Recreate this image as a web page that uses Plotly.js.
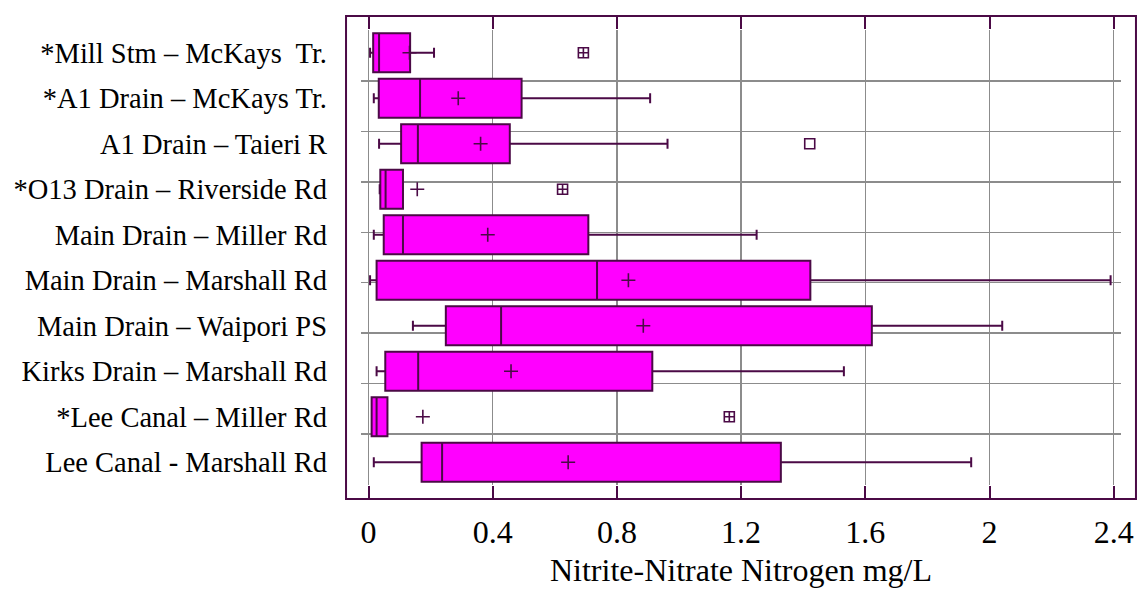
<!DOCTYPE html>
<html>
<head>
<meta charset="utf-8">
<script src="https://cdn.plot.ly/plotly-3.0.1.min.js"></script>
<style>html,body{margin:0;padding:0;background:#fff;}#chart{width:1138px;height:605px;}</style>
</head>
<body>
<div id="chart"></div>
<script>
// ---- data ----
var sites = [
  '*Mill Stm – McKays\u00a0 Tr.',
  '*A1 Drain – McKays Tr.',
  'A1 Drain – Taieri R',
  '*O13 Drain – Riverside Rd',
  'Main Drain – Miller Rd',
  'Main Drain – Marshall Rd',
  'Main Drain – Waipori PS',
  'Kirks Drain – Marshall Rd',
  '*Lee Canal – Miller Rd',
  'Lee Canal - Marshall Rd'
];
var lowerWhisker = [0.005, 0.017, 0.034, 0.036, 0.017, 0.005, 0.143, 0.026, 0.010, 0.017];
var q1Values     = [0.015, 0.033, 0.105, 0.038, 0.049, 0.026, 0.249, 0.054, 0.010, 0.171];
var medianValues = [0.034, 0.166, 0.159, 0.055, 0.111, 0.736, 0.427, 0.160, 0.026, 0.237];
var q3Values     = [0.134, 0.493, 0.455, 0.111, 0.708, 1.423, 1.621, 0.914, 0.061, 1.328];
var upperWhisker = [0.211, 0.907, 0.963, 0.111, 1.250, 2.390, 2.041, 1.531, 0.061, 1.941];
var meanValues   = [0.132, 0.289, 0.361, 0.157, 0.384, 0.837, 0.885, 0.459, 0.175, 0.643];

var farOutlierSites  = ['*Mill Stm – McKays\u00a0 Tr.', '*O13 Drain – Riverside Rd', '*Lee Canal – Miller Rd'];
var farOutlierValues = [0.692, 0.625, 1.162];
var outlierSites  = ['A1 Drain – Taieri R'];
var outlierValues = [1.421];

var xTickValues = [0, 0.4, 0.8, 1.2, 1.6, 2, 2.4];
var xTickLabels = ['0', '0.4', '0.8', '1.2', '1.6', '2', '2.4'];
var gridRows = [0, 1, 2, 3, 4, 5, 6, 7, 8, 9];
var xTitle = 'Nitrite-Nitrate Nitrogen mg/L';

// ---- styling ----
var DARK = '#4b0a46';
var FONT = 'Liberation Serif';

var traces = [
  {
    type: 'box', orientation: 'h', name: 'box',
    y: sites,
    lowerfence: lowerWhisker, q1: q1Values, median: medianValues,
    q3: q3Values, upperfence: upperWhisker,
    boxpoints: false,
    width: 0.86,
    whiskerwidth: 0.26,
    fillcolor: '#ff00ff',
    line: {color: DARK, width: 2},
    hoverinfo: 'skip', showlegend: false
  },
  {
    type: 'scatter', mode: 'markers', name: 'mean',
    x: meanValues, y: sites,
    marker: {symbol: 'cross-thin-open', size: 10, color: DARK, line: {color: DARK, width: 1.6}},
    hoverinfo: 'skip', showlegend: false, cliponaxis: false
  },
  {
    type: 'scatter', mode: 'markers', name: 'far outliers',
    x: farOutlierValues, y: farOutlierSites,
    marker: {symbol: 'square-cross-open', size: 10, color: DARK, line: {color: DARK, width: 1.6}},
    hoverinfo: 'skip', showlegend: false, cliponaxis: false
  },
  {
    type: 'scatter', mode: 'markers', name: 'outliers',
    x: outlierValues, y: outlierSites,
    marker: {symbol: 'square-open', size: 10, color: DARK, line: {color: DARK, width: 1.6}},
    hoverinfo: 'skip', showlegend: false, cliponaxis: false
  },
  {
    type: 'scatter', mode: 'markers', x: [null], y: [null], yaxis: 'y2',
    hoverinfo: 'skip', showlegend: false
  }
];

var layout = {
  width: 1138, height: 605,
  margin: {l: 361, r: 17, t: 30, b: 120},
  paper_bgcolor: '#ffffff', plot_bgcolor: '#ffffff',
  font: {family: FONT, color: '#000000'},
  showlegend: false,
  xaxis: {
    range: [-0.0242, 2.4235],
    tickvals: xTickValues, ticktext: xTickLabels,
    tickfont: {family: FONT, size: 32, color: '#000'},
    ticks: 'outside', ticklen: 14, tickwidth: 2, tickcolor: DARK,
    mirror: 'ticks', showline: false,
    showgrid: true, gridcolor: '#8c8c8c', gridwidth: 1.5,
    zeroline: false,
    ticklabelstandoff: 5,
    title: {text: xTitle, font: {family: FONT, size: 32, color: '#000'}, standoff: 9},
    automargin: false, fixedrange: true
  },
  yaxis: {
    type: 'category',
    range: [9.5, -0.5],
    showgrid: false, zeroline: false, showline: false,
    ticks: '',
    tickfont: {family: FONT, size: 28.5, color: '#000'},
    ticklabelstandoff: 33,
    automargin: false, fixedrange: true
  },
  yaxis2: {
    overlaying: 'y', side: 'left',
    range: [9.01, -0.01],
    tickvals: gridRows,
    showticklabels: false, ticks: '',
    showgrid: true, gridcolor: '#8c8c8c', gridwidth: 1.5,
    zeroline: false, showline: false, fixedrange: true
  },
  shapes: [{
    type: 'rect', xref: 'paper', yref: 'paper',
    x0: -0.0197, x1: 1.0197, y0: -0.0308, y1: 1.0308,
    line: {color: DARK, width: 2}, fillcolor: 'rgba(0,0,0,0)', layer: 'above'
  }]
};

Plotly.newPlot('chart', traces, layout, {staticPlot: true, displayModeBar: false});
</script>
</body>
</html>
